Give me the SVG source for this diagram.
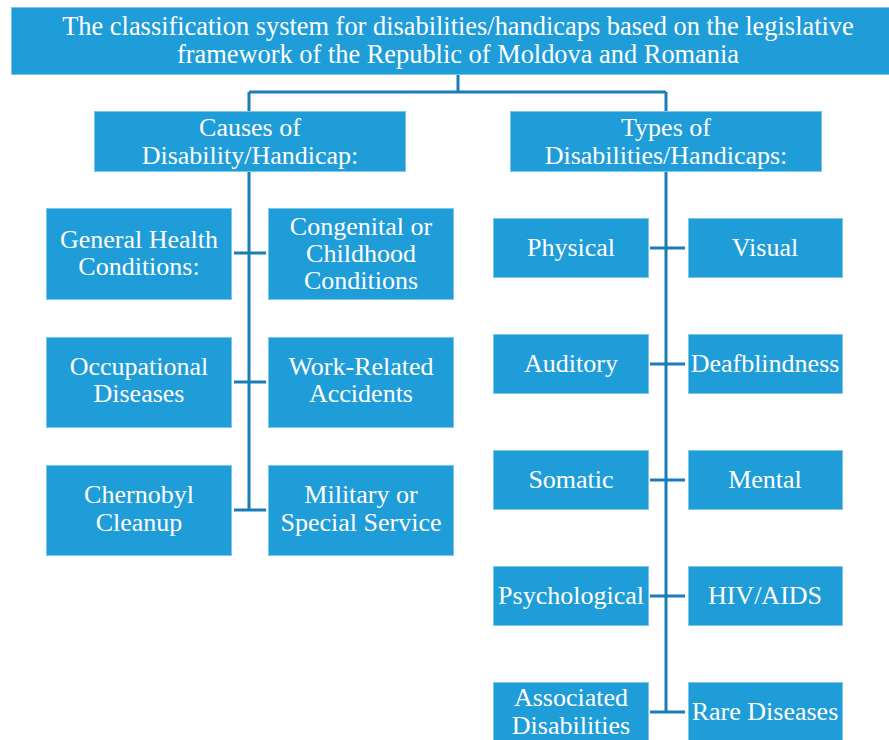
<svg xmlns="http://www.w3.org/2000/svg" width="889" height="740" viewBox="0 0 889 740">
<style>
.box{fill:#1f9dd9;stroke:#7cc6ea;stroke-width:1}
.t{font-family:"Liberation Serif","Times New Roman",serif;fill:#ffffff;text-anchor:middle}
.s22{font-size:26px}
.s24{font-size:26.4px}
.ln{stroke:#1a7db5;stroke-width:3;fill:none}
</style>
<rect width="889" height="740" fill="#ffffff"/>
<g id="connectors">
<path class="ln" d="M458 75V92M249 92H666M249 92V111M666 92V111"/>
<path class="ln" d="M249 171V510M234 253H266M234 382H266M234 510H266"/>
<path class="ln" d="M666 171V712M650 248H685M650 364H685M650 480H685M650 596H685M650 712H685"/>
</g>
<g id="title"><rect class="box" x="11.5" y="7.5" width="890" height="67"/>
<text class="t s24" x="458" y="35">The classification system for disabilities/handicaps based on the legislative</text>
<text class="t s24" x="458" y="63">framework of the Republic of Moldova and Romania</text></g>
<g id="causes"><rect class="box" x="94.5" y="111.5" width="311" height="60"/>
<text class="t s22" x="250" y="136">Causes of</text><text class="t s22" x="250" y="164">Disability/Handicap:</text></g>
<g id="types"><rect class="box" x="510.5" y="111.5" width="311" height="60"/>
<text class="t s22" x="666" y="136">Types of</text><text class="t s22" x="666" y="164">Disabilities/Handicaps:</text></g>
<g id="general"><rect class="box" x="46.5" y="208.5" width="185" height="91"/>
<text class="t s22" x="139" y="248">General Health</text><text class="t s22" x="139" y="275">Conditions:</text></g>
<g id="congenital"><rect class="box" x="268.5" y="208.5" width="185" height="91"/>
<text class="t s22" x="361" y="235">Congenital or</text><text class="t s22" x="361" y="262">Childhood</text><text class="t s22" x="361" y="289">Conditions</text></g>
<g id="occupational"><rect class="box" x="46.5" y="337.5" width="185" height="90"/>
<text class="t s22" x="139" y="375">Occupational</text><text class="t s22" x="139" y="402">Diseases</text></g>
<g id="work"><rect class="box" x="268.5" y="337.5" width="185" height="90"/>
<text class="t s22" x="361" y="375">Work-Related</text><text class="t s22" x="361" y="402">Accidents</text></g>
<g id="chernobyl"><rect class="box" x="46.5" y="465.5" width="185" height="90"/>
<text class="t s22" x="139" y="503">Chernobyl</text><text class="t s22" x="139" y="531">Cleanup</text></g>
<g id="military"><rect class="box" x="268.5" y="465.5" width="185" height="90"/>
<text class="t s22" x="361" y="503">Military or</text><text class="t s22" x="361" y="531">Special Service</text></g>
<g id="physical"><rect class="box" x="493.5" y="218.5" width="155" height="59"/><text class="t s22" x="571" y="256">Physical</text></g>
<g id="visual"><rect class="box" x="688.5" y="218.5" width="154" height="59"/><text class="t s22" x="765" y="256">Visual</text></g>
<g id="auditory"><rect class="box" x="493.5" y="334.5" width="155" height="59"/><text class="t s22" x="571" y="372">Auditory</text></g>
<g id="deafblindness"><rect class="box" x="688.5" y="334.5" width="154" height="59"/><text class="t s22" x="765" y="372">Deafblindness</text></g>
<g id="somatic"><rect class="box" x="493.5" y="450.5" width="155" height="59"/><text class="t s22" x="571" y="488">Somatic</text></g>
<g id="mental"><rect class="box" x="688.5" y="450.5" width="154" height="59"/><text class="t s22" x="765" y="488">Mental</text></g>
<g id="psychological"><rect class="box" x="493.5" y="566.5" width="155" height="59"/><text class="t s22" x="571" y="604">Psychological</text></g>
<g id="hiv"><rect class="box" x="688.5" y="566.5" width="154" height="59"/><text class="t s22" x="765" y="604">HIV/AIDS</text></g>
<g id="associated"><rect class="box" x="493.5" y="682.5" width="155" height="70"/>
<text class="t s22" x="571" y="706">Associated</text><text class="t s22" x="571" y="734">Disabilities</text></g>
<g id="rare"><rect class="box" x="688.5" y="682.5" width="154" height="70"/><text class="t s22" x="765" y="720">Rare Diseases</text></g>
</svg>
